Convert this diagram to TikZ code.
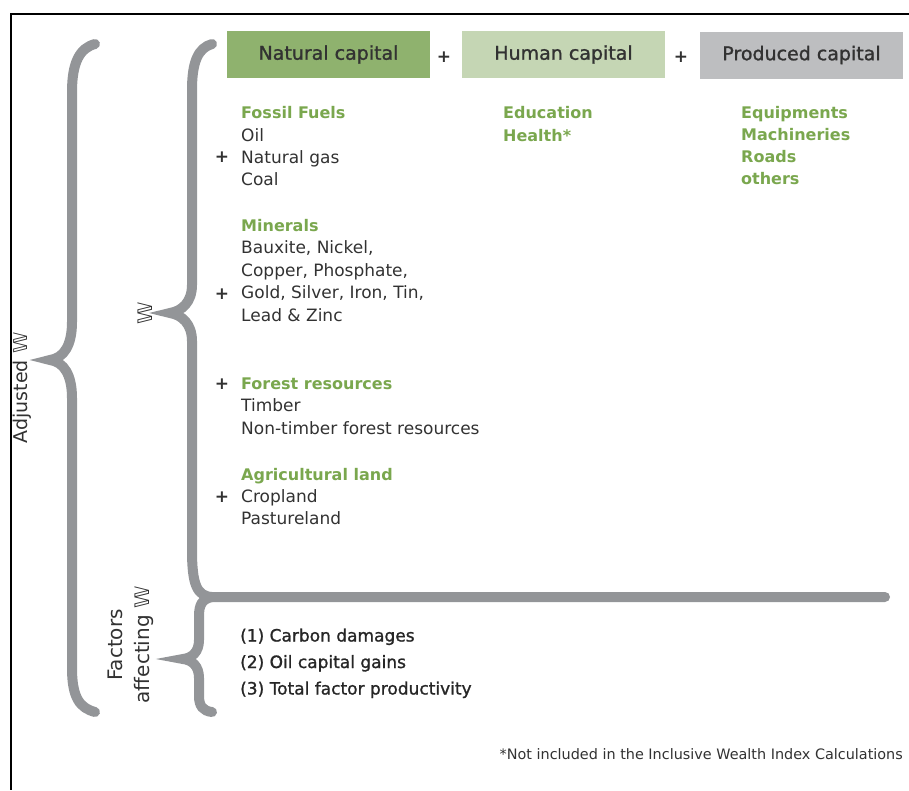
\documentclass[tikz,border=0pt]{standalone}
\usepackage{fontspec}
\setmainfont{DejaVu Sans}
\newfontfamily\medfont[RawFeature={embolden=1.2}]{DejaVu Sans}

\definecolor{bracegrey}{RGB}{147,149,152}
\definecolor{leafgreen}{RGB}{122,167,78}
\definecolor{inkgrey}{RGB}{50,50,50}
\definecolor{natfill}{RGB}{143,178,110}
\definecolor{humfill}{RGB}{197,214,180}
\definecolor{prodfill}{RGB}{189,190,192}

\newcommand{\dblW}{𝕎}

\begin{document}
\begin{tikzpicture}[x=1pt,y=-1pt,
  brace/.style={line width=10pt,line cap=round,bracegrey},
  capbox/.style={minimum width=203pt,minimum height=47pt,inner sep=0pt,
    text=inkgrey,font=\fontsize{19}{22}\medfont},
  item/.style={anchor=base west,inner sep=0pt,text=inkgrey,
    font=\fontsize{17}{20}\selectfont},
  head/.style={item,text=leafgreen,font=\fontsize{16}{20}\selectfont\bfseries},
  plus/.style={inner sep=0pt,text=inkgrey,font=\fontsize{17}{20}\selectfont\bfseries},
  side/.style={rotate=90,inner sep=0pt,text=inkgrey,font=\fontsize{20}{27}\selectfont}]

\useasboundingbox (0,0) rectangle (909,790);

% Frame (top and left edges only)
\draw[line width=1.5pt] (909,14) -- (11,14) -- (11,790);

% Capital boxes
\node[capbox,fill=natfill] (natural) at (328.5,54.5) {Natural capital};
\node[capbox,fill=humfill] (human) at (563.5,54.5) {Human capital};
\node[capbox,fill=prodfill] (produced) at (801.5,55) {Produced capital};
\node[plus] (plusA) at (444,57) {+};
\node[plus] (plusB) at (681,57) {+};

% Outer brace
\draw[brace] (95,44) .. controls (80,48) and (72,62) .. (72,92) -- (72,322)
  .. controls (72,345) and (64,358) .. (50,360)
  .. controls (64,362) and (72,375) .. (72,398) -- (72,668)
  .. controls (72,698) and (80,708) .. (95,712);

% Inner brace, joined to the rule
\draw[brace] (212,44) .. controls (198,48) and (192,62) .. (192,90) -- (192,285)
  .. controls (192,302) and (182,311) .. (170,313)
  .. controls (182,315) and (192,324) .. (192,341) -- (192,550)
  .. controls (192,585) and (197,596) .. (212,597) -- (885,597);

% Factors brace
\draw[brace] (212,597) .. controls (202,599) and (199,605) .. (199,616) -- (199,640)
  .. controls (199,652) and (192,658) .. (183,659)
  .. controls (192,660) and (199,666) .. (199,678) -- (199,696)
  .. controls (199,706) and (203,711) .. (212,712);

% Side labels
\node[side,font=\fontsize{19}{27}\selectfont] (adjusted) at (22,388) {Adjusted \dblW};
\node[side] (wealth) at (145,313) {\dblW};
\node[side,align=center] (factors) at (131,645) {Factors\\affecting \dblW};

% Natural capital column
\node[head] (fossil) at (241,118) {Fossil Fuels};
\foreach \txt [count=\i] in {Oil, Natural gas, Coal}
  \node[item] (fossil\i) at (241,{119+22*\i}) {\txt};
\node[plus] (plus1) at (222,157) {+};

\node[head] (minerals) at (241,231) {Minerals};
\foreach \txt [count=\i] in {{Bauxite, Nickel,}, {Copper, Phosphate,},
    {Gold, Silver, Iron, Tin,}, {Lead \& Zinc}}
  \node[item] (mineral\i) at (241,{230.5+22.75*\i}) {\txt};
\node[plus] (plus2) at (222,294) {+};

\node[head] (forest) at (241,389) {Forest resources};
\node[item] (forest1) at (241,411) {Timber};
\node[item] (forest2) at (241,434) {Non-timber forest resources};
\node[plus] (plus3) at (222,384) {+};

\node[head] (agri) at (241,480) {Agricultural land};
\node[item] (agri1) at (241,502) {Cropland};
\node[item] (agri2) at (241,524) {Pastureland};
\node[plus] (plus4) at (222,497) {+};

% Human capital column
\node[head] (education) at (503,118) {Education};
\node[head] (health) at (503,141) {Health*};

% Produced capital column
\foreach \txt [count=\i] in {Equipments, Machineries, Roads, others}
  \node[head] (produced\i) at (741,{96+22*\i}) {\txt};

% Factors affecting W
\foreach \txt [count=\i] in {(1) Carbon damages, (2) Oil capital gains,
    (3) Total factor productivity}
  \node[item,text=black!85,font=\fontsize{17}{20}\medfont] (factor\i) at (240,{615+26.5*\i}) {\txt};

% Footnote
\node[anchor=base east,inner sep=0pt,text=inkgrey,font=\fontsize{14.4}{16}\selectfont]
  (note) at (903,759) {*Not included in the Inclusive Wealth Index Calculations};

\end{tikzpicture}
\end{document}
